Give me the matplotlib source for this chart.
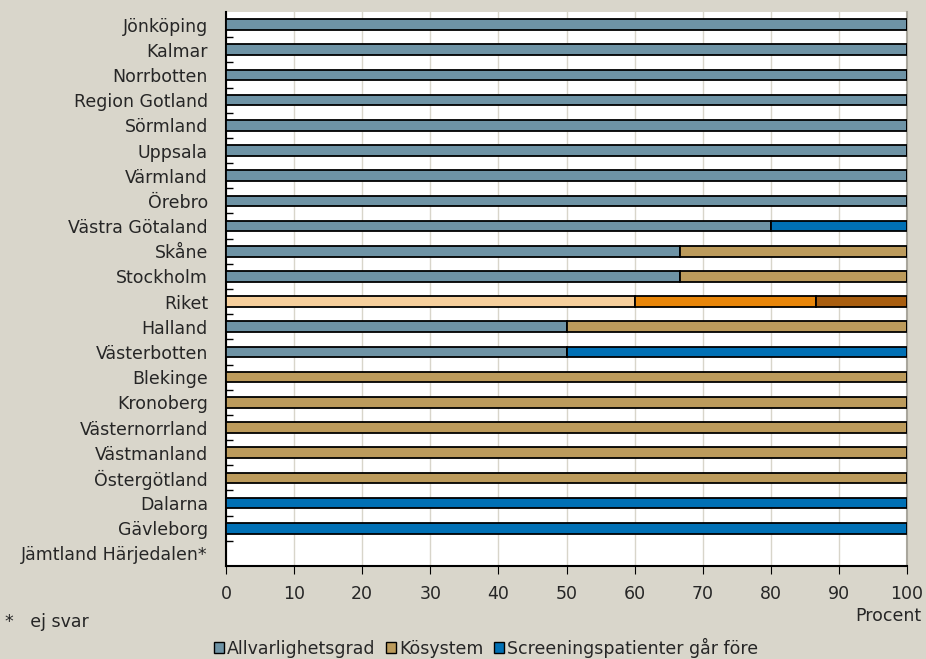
import matplotlib
import matplotlib.pyplot as plt
import numpy as np

matplotlib.use("Agg")

regions = ["Jönköping", "Kalmar", "Norrbotten", "Region Gotland", "Sörmland",
           "Uppsala", "Värmland", "Örebro", "Västra Götaland", "Skåne",
           "Stockholm", "Riket", "Halland", "Västerbotten", "Blekinge",
           "Kronoberg", "Västernorrland", "Västmanland", "Östergötland",
           "Dalarna", "Gävleborg", "Jämtland Härjedalen*"]
allvarlighet = [100, 100, 100, 100, 100, 100, 100, 100, 80, 66.7, 66.7, 60,
                50, 50, 0, 0, 0, 0, 0, 0, 0, 0]
kosystem = [0, 0, 0, 0, 0, 0, 0, 0, 0, 33.3, 33.3, 26.7,
            50, 0, 100, 100, 100, 100, 100, 0, 0, 0]
screening = [0, 0, 0, 0, 0, 0, 0, 0, 20, 0, 0, 13.3,
             0, 50, 0, 0, 0, 0, 0, 100, 100, 0]

bg = "#D9D6CB"
txt = "#262626"
c_allv, c_ko, c_scr = "#6E93A5", "#BC9B5C", "#0070B5"
riket_colors = ["#F6CF9C", "#E8860A", "#A85E10"]
fs = 12.5

plt.rcParams["text.color"] = txt
plt.rcParams["xtick.labelcolor"] = txt
plt.rcParams["ytick.labelcolor"] = txt

allv = np.array(allvarlighet)
ko = np.array(kosystem)
scr = np.array(screening)
y = np.arange(len(regions))

fig = plt.figure(figsize=(9.26, 6.59), dpi=100, facecolor=bg)
ax = fig.add_axes([226 / 926, 1 - 566 / 659, 681 / 926, 554 / 659])
ax.set_facecolor("white")

is_riket = [r == "Riket" for r in regions]
col1 = [riket_colors[0] if r else c_allv for r in is_riket]
col2 = [riket_colors[1] if r else c_ko for r in is_riket]
col3 = [riket_colors[2] if r else c_scr for r in is_riket]

h = 0.42
kw = dict(height=h, edgecolor="black", linewidth=1.3, zorder=3)
ax.barh(y, allv, color=col1, **kw)
ax.barh(y, ko, left=allv, color=col2, **kw)
ax.barh(y, scr, left=allv + ko, color=col3, **kw)

ax.set_xlim(0, 100)
ax.set_ylim(len(regions) - 0.5, -0.5)
ax.set_xticks(np.arange(0, 101, 10))
ax.tick_params(axis="x", direction="out", length=6, pad=8, labelsize=fs)
ax.set_yticks(y)
ax.set_yticklabels(regions, fontsize=fs)
ax.tick_params(axis="y", length=0, pad=13)
ax.set_yticks(np.arange(0.5, len(regions) - 0.5, 1), minor=True)
ax.tick_params(axis="y", which="minor", direction="in", length=5, width=1)
ax.grid(axis="x", color="#D8D5CA", linewidth=1, zorder=0)

for s in ["left", "bottom"]:
    ax.spines[s].set_color("black")
    ax.spines[s].set_linewidth(1.5)
ax.spines["top"].set_visible(False)
ax.spines["right"].set_color("#A9A69C")
ax.spines["right"].set_linewidth(1.5)

fig.text(888 / 926, 1 - 616 / 659, "Procent", fontsize=fs, ha="center", va="center")
fig.text(5 / 926, 1 - 622 / 659, "*   ej svar", fontsize=fs, ha="left", va="center")

handles = [plt.Rectangle((0, 0), 1, 1, facecolor=c, edgecolor="black", linewidth=1)
           for c in [c_allv, c_ko, c_scr]]
fig.legend(handles, ["Allvarlighetsgrad", "Kösystem", "Screeningspatienter går före"],
           loc="center", bbox_to_anchor=(486 / 926, 1 - 648 / 659), ncol=3,
           frameon=False, fontsize=fs, handlelength=0.6, handleheight=0.6,
           handletextpad=0.15, columnspacing=0.6)

plt.savefig("out.png", dpi=100, facecolor=bg)
